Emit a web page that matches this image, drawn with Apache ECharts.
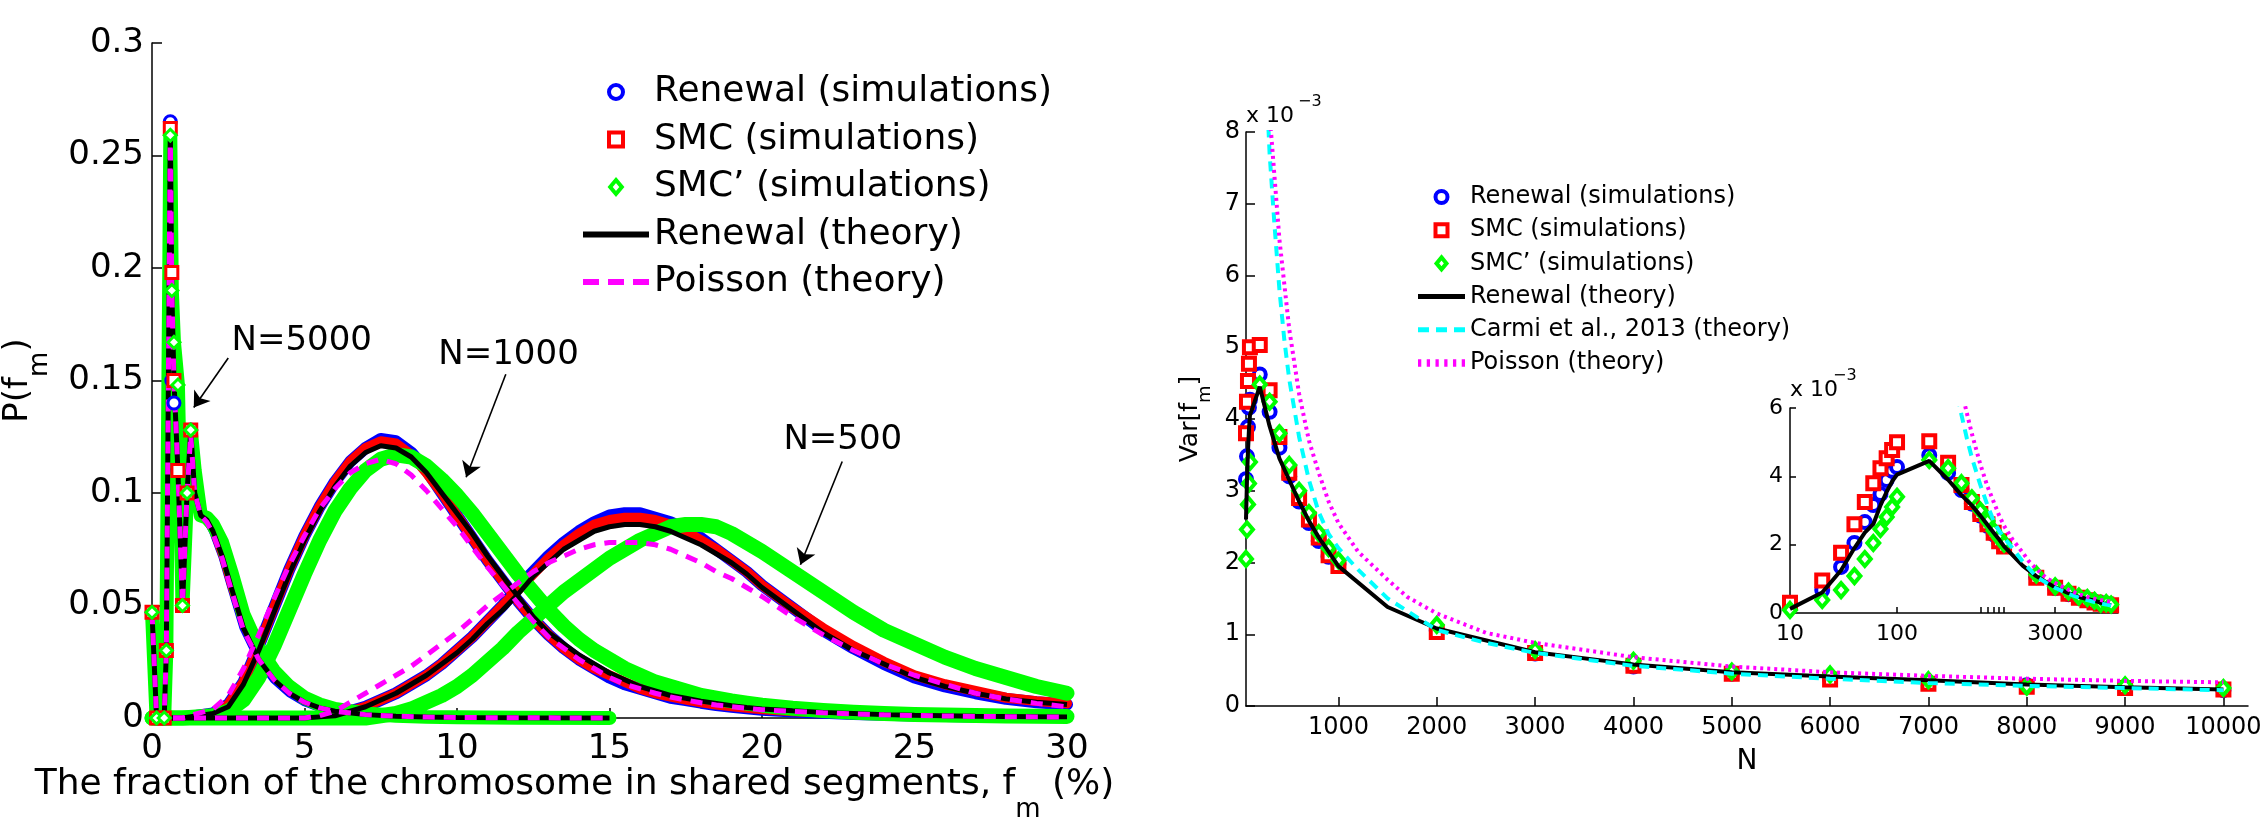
<!DOCTYPE html>
<html>
<head>
<meta charset="utf-8">
<script src="https://cdn.jsdelivr.net/npm/echarts@6/dist/echarts.min.js"></script>
<style>
  html, body { margin: 0; padding: 0; background: #fff; }
  #main { width: 2264px; height: 821px; }
</style>
</head>
<body>
<div id="main"></div>
<script>
// ---------- left panel: P(f_m) for N = 5000, 1000, 500 ----------
var fGrid = [0,1,2,2.5,3,3.5,4,4.5,5,5.5,6,6.5,7,7.5,8,8.5,9,9.5,10,10.5,11,11.5,12,12.5,13,13.5,14,14.5,15,15.5,16,16.5,17,17.5,18,18.5,19,19.5,20,21,22,23,24,25,26,27,28,29,30];
var f5000 = [0,0.15,0.4,0.47,0.6,0.65,0.72,0.85,1.0,1.15,1.27,1.4,1.6,1.8,2.0,2.3,2.6,3.0,3.5,4.0,4.5,5.0,5.5,6.0,7.0,8.0,9.0,10,12,15];

var ren5000  = [0.047,0,0,0.03,0.265,0.15,0.14,0.11,0.05,0.10,0.128,0.10,0.09,0.088,0.083,0.072,0.058,0.040,0.026,0.017,0.011,0.007,0.0045,0.003,0.0015,0.0008,0.0004,0.0002,0.0001,0];
var smc5000  = [0.047,0,0,0.03,0.262,0.198,0.15,0.11,0.05,0.10,0.128,0.10,0.09,0.088,0.083,0.072,0.058,0.041,0.027,0.018,0.012,0.0075,0.005,0.0033,0.0017,0.0009,0.0005,0.0002,0.0001,0];
var smcp5000 = [0.047,0,0,0.03,0.259,0.19,0.167,0.148,0.05,0.10,0.128,0.11,0.09,0.089,0.086,0.078,0.065,0.046,0.031,0.021,0.014,0.009,0.006,0.004,0.002,0.001,0.0005,0.0003,0.0001,0];
var theo5000 = [0.047,0,0,0.03,0.263,0.19,0.15,0.11,0.05,0.10,0.128,0.10,0.09,0.088,0.083,0.072,0.058,0.040,0.026,0.017,0.011,0.007,0.0045,0.003,0.0015,0.0008,0.0004,0.0002,0.0001,0];
var poi5000  = [0.047,0,0,0.03,0.26,0.19,0.15,0.11,0.05,0.10,0.126,0.10,0.09,0.087,0.082,0.071,0.057,0.039,0.026,0.017,0.011,0.007,0.0045,0.003,0.0015,0.0008,0.0004,0.0002,0.0001,0];

var ren1000  = [0,0,0.002,0.006,0.016,0.032,0.049,0.066,0.081,0.094,0.105,0.114,0.120,0.124,0.123,0.118,0.110,0.100,0.090,0.080,0.070,0.061,0.052,0.044,0.037,0.031,0.026,0.022,0.018,0.015,0.013,0.011,0.009,0.008,0.0068,0.0058,0.005,0.0043,0.0037,0.0029,0.0023,0.0018,0.0014,0.0011,0.0009,0.0007,0.0006,0.0005,0.0004];
var smc1000  = [0,0,0.002,0.006,0.016,0.032,0.049,0.066,0.081,0.094,0.105,0.114,0.120,0.123,0.122,0.117,0.109,0.100,0.090,0.080,0.070,0.061,0.052,0.044,0.037,0.031,0.026,0.022,0.019,0.016,0.013,0.011,0.0095,0.0082,0.007,0.006,0.0052,0.0045,0.0039,0.003,0.0024,0.0019,0.0015,0.0012,0.001,0.0008,0.0007,0.0006,0.0005];
var smcp1000 = [0,0,0.001,0.003,0.008,0.018,0.032,0.048,0.064,0.079,0.092,0.102,0.110,0.115,0.117,0.116,0.112,0.106,0.099,0.091,0.082,0.073,0.064,0.056,0.048,0.041,0.035,0.030,0.026,0.022,0.019,0.016,0.014,0.012,0.010,0.0088,0.0076,0.0066,0.0057,0.0043,0.0033,0.0026,0.002,0.0016,0.0013,0.0011,0.0009,0.0008,0.0007];
var theo1000 = [0,0,0.002,0.005,0.015,0.030,0.047,0.064,0.079,0.092,0.103,0.112,0.118,0.121,0.120,0.116,0.109,0.100,0.091,0.082,0.072,0.063,0.054,0.045,0.038,0.033,0.028,0.024,0.020,0.017,0.014,0.012,0.010,0.0088,0.0075,0.0065,0.0055,0.0047,0.004,0.0032,0.0025,0.002,0.0015,0.0012,0.001,0.0008,0.0007,0.0006,0.0005];
var poi1000  = [0,0,0.004,0.010,0.022,0.037,0.053,0.068,0.081,0.093,0.102,0.109,0.113,0.115,0.113,0.108,0.101,0.093,0.085,0.076,0.067,0.059,0.051,0.043,0.036,0.031,0.026,0.022,0.018,0.015,0.013,0.011,0.0093,0.008,0.0068,0.0058,0.005,0.0043,0.0037,0.0029,0.0023,0.0018,0.0014,0.0011,0.0009,0.0007,0.0006,0.0005,0.0004];

var ren500   = [0,0,0,0,0,0,0,0,0,0.0005,0.001,0.003,0.005,0.008,0.011,0.015,0.019,0.024,0.030,0.036,0.043,0.050,0.058,0.065,0.072,0.078,0.083,0.087,0.090,0.091,0.091,0.089,0.087,0.084,0.080,0.075,0.070,0.065,0.059,0.049,0.039,0.031,0.024,0.018,0.014,0.011,0.0085,0.007,0.006];
var smc500   = [0,0,0,0,0,0,0,0,0,0.0005,0.001,0.003,0.005,0.008,0.011,0.015,0.019,0.024,0.030,0.036,0.043,0.050,0.057,0.064,0.071,0.077,0.082,0.086,0.088,0.089,0.089,0.088,0.086,0.083,0.079,0.075,0.070,0.065,0.059,0.049,0.040,0.032,0.025,0.019,0.015,0.012,0.009,0.0075,0.0065];
var smcp500  = [0,0,0,0,0,0,0,0,0,0,0,0,0,0.001,0.002,0.004,0.007,0.010,0.014,0.019,0.025,0.031,0.038,0.044,0.050,0.056,0.061,0.066,0.071,0.075,0.079,0.082,0.085,0.086,0.086,0.085,0.082,0.078,0.074,0.065,0.056,0.047,0.039,0.033,0.027,0.022,0.018,0.014,0.011];
var theo500  = [0,0,0,0,0,0,0,0,0,0.0005,0.001,0.003,0.005,0.008,0.011,0.015,0.019,0.024,0.029,0.035,0.042,0.048,0.055,0.063,0.069,0.075,0.079,0.083,0.085,0.086,0.086,0.085,0.083,0.080,0.077,0.073,0.069,0.064,0.058,0.048,0.038,0.030,0.024,0.018,0.014,0.011,0.0085,0.007,0.006];
var poi500   = [0,0,0,0,0,0,0,0,0,0.001,0.003,0.007,0.011,0.015,0.019,0.023,0.028,0.033,0.038,0.044,0.050,0.055,0.060,0.065,0.069,0.072,0.075,0.077,0.078,0.078,0.078,0.077,0.075,0.072,0.069,0.065,0.062,0.058,0.054,0.045,0.037,0.030,0.024,0.019,0.015,0.011,0.0085,0.0065,0.005];

var annotText = ['N=5000', 'N=1000', 'N=500'];
var annotPos  = [[4.91, 0.1674], [11.69, 0.161], [22.65, 0.1233]];
var arrowFrom = [[2.50, 0.160], [11.6, 0.1528], [22.63, 0.114]];
var arrowTo   = [[1.37, 0.138], [10.3, 0.107], [21.26, 0.0681]];

// ---------- right panel: Var[f_m] (x 10^-3) vs N ----------
var nSim    = [10,20,30,40,50,60,70,80,90,100,200,300,400,500,600,700,800,900,1000,2000,3000,4000,5000,6000,7000,8000,9000,10000];
var varRen  = [0.2,0.67,1.35,2.05,2.66,3.16,3.48,3.89,4.16,4.27,4.62,4.1,3.6,3.2,2.85,2.55,2.3,2.08,1.98,1.05,0.73,0.55,0.45,0.38,0.33,0.29,0.26,0.22];
var varSmc  = [0.3,0.95,1.76,2.6,3.25,3.8,4.24,4.53,4.77,5.0,5.03,4.4,3.75,3.25,2.9,2.6,2.35,2.1,1.95,1.03,0.74,0.56,0.45,0.37,0.31,0.27,0.25,0.23];
var varSmcp = [0.09,0.38,0.67,1.08,1.58,2.05,2.46,2.81,3.1,3.4,4.48,4.24,3.8,3.36,3.0,2.69,2.41,2.2,2.03,1.13,0.78,0.63,0.48,0.44,0.36,0.27,0.29,0.25];
var nTheo   = [10,20,30,40,50,60,70,80,90,100,200,300,400,500,600,700,800,900,1000,1500,2000,3000,4000,5000,6000,7000,8000,9000,10000];
var varTheo = [0.12,0.6,1.25,1.9,2.35,2.6,3.15,3.55,3.85,4.05,4.45,3.9,3.45,3.15,2.85,2.58,2.35,2.15,1.95,1.38,1.08,0.75,0.58,0.47,0.41,0.36,0.3,0.26,0.23];
var nCarmi  = [280,300,350,400,450,500,600,700,800,900,1000,1200,1500,2000,2500,3000,4000,5000,6000,7000,8000,9000,10000];
var varCarmi= [8.3,7.7,6.7,5.8,5.1,4.55,3.75,3.15,2.7,2.4,2.2,1.9,1.5,1.06,0.88,0.74,0.56,0.45,0.38,0.32,0.28,0.25,0.22];
var nPois   = [300,400,500,600,700,800,900,1000,1200,1500,1700,2000,2500,3000,4000,5000,6000,7000,8000,9000,10000];
var varPois = [8.25,6.5,5.25,4.35,3.7,3.25,2.85,2.55,2.15,1.76,1.52,1.29,1.02,0.88,0.68,0.55,0.47,0.42,0.38,0.35,0.33];

var mainMinN   = 60;
var mainTicks  = [1000,2000,3000,4000,5000,6000,7000,8000,9000,10000];
var insetLabels = [10, 100, 3000];
var insetTicks  = [10, 100, 600, 700, 800, 900, 1000, 3000];

var FONT = 'DejaVu Sans';
var BLUE = '#0000ff', RED = '#ff0000', GREEN = '#00ff00', BLACK = '#000000', MAGENTA = '#ff00ff', CYAN = '#00ffff';

function pts(xs, ys, symMax, xMin) {
  var out = [];
  xs.forEach(function (x, i) {
    if (xMin !== undefined && x < xMin) return;
    var d = { value: [x, ys[i]] };
    if (symMax !== undefined && x > symMax) d.symbol = 'none';
    out.push(d);
  });
  return out;
}

var chart = echarts.init(document.getElementById('main'));
var series = [];

// left: simulation bands, then theory lines on top
var leftSets = [
  { f: f5000, ren: ren5000, smc: smc5000, smcp: smcp5000, theo: theo5000, poi: poi5000, band: [8, 7, 14], mark: 1.3 },
  { f: fGrid, ren: ren1000, smc: smc1000, smcp: smcp1000, theo: theo1000, poi: poi1000, band: [12, 10, 15] },
  { f: fGrid, ren: ren500,  smc: smc500,  smcp: smcp500,  theo: theo500,  poi: poi500,  band: [12, 10, 15] }
];
var simKinds = [
  { key: 'ren',  name: 'Renewal (simulations)', color: BLUE,  symbol: 'circle' },
  { key: 'smc',  name: 'SMC (simulations)',     color: RED,   symbol: 'rect' },
  { key: 'smcp', name: 'SMC\u2019 (simulations)', color: GREEN, symbol: 'diamond' }
];
simKinds.forEach(function (k, ki) {
  leftSets.forEach(function (s) {
    var withMarks = s.mark !== undefined;
    series.push({
      type: 'line', name: k.name, xAxisIndex: 0, yAxisIndex: 0, clip: false,
      data: pts(s.f, s[k.key], withMarks ? s.mark : undefined),
      symbol: withMarks ? k.symbol : 'none', symbolSize: 12, showSymbol: withMarks,
      itemStyle: { color: '#fff', borderColor: k.color, borderWidth: 3, opacity: 1 },
      lineStyle: { color: k.color, width: s.band[ki], join: 'round', cap: 'round' },
      silent: true
    });
  });
});
leftSets.forEach(function (s) {
  series.push({
    type: 'line', name: 'Renewal (theory)', xAxisIndex: 0, yAxisIndex: 0, clip: false,
    data: pts(s.f, s.theo), symbol: 'none',
    lineStyle: { color: BLACK, width: 5 }, itemStyle: { color: BLACK }, silent: true
  });
});
leftSets.forEach(function (s) {
  series.push({
    type: 'line', name: 'Poisson (theory)', xAxisIndex: 0, yAxisIndex: 0, clip: false,
    data: pts(s.f, s.poi), symbol: 'none',
    lineStyle: { color: MAGENTA, width: 5, type: [12, 9] }, itemStyle: { color: MAGENTA }, silent: true
  });
});

// annotations N=... with arrows
series.push({
  type: 'scatter', name: 'annot', xAxisIndex: 0, yAxisIndex: 0,
  data: annotPos, symbol: 'rect', symbolSize: 1, itemStyle: { color: '#fff', opacity: 1 }, silent: true,
  label: {
    show: true, position: 'top', distance: -17, fontFamily: FONT, fontSize: 34, color: '#000000',
    opacity: 1, textBorderWidth: 0,
    formatter: function (p) { return annotText[p.dataIndex]; }
  },
  markLine: {
    silent: true, symbol: ['none', 'arrow'], symbolSize: 15, animation: false,
    lineStyle: { color: '#000', width: 1.6, type: 'solid', opacity: 1 }, label: { show: false },
    data: arrowFrom.map(function (a, i) { return [{ coord: a }, { coord: arrowTo[i] }]; })
  }
});

// right: main (grid 1) and inset (grid 2) share the same data
[[1, 1, mainMinN], [2, 2, undefined]].forEach(function (ax) {
  simKinds.forEach(function (k) {
    var ys = k.key === 'ren' ? varRen : (k.key === 'smc' ? varSmc : varSmcp);
    series.push({
      type: 'scatter', name: k.name, xAxisIndex: ax[0], yAxisIndex: ax[1],
      data: pts(nSim, ys, undefined, ax[2]), symbol: k.symbol, symbolSize: k.symbol === 'diamond' ? [12, 14] : 12,
      itemStyle: { color: '#fff', borderColor: k.color, borderWidth: 4, opacity: 1 }, silent: true
    });
  });
  series.push({
    type: 'line', name: 'Renewal (theory)', xAxisIndex: ax[0], yAxisIndex: ax[1],
    data: pts(nTheo, varTheo, undefined, ax[2]), symbol: 'none',
    lineStyle: { color: BLACK, width: 4 }, itemStyle: { color: BLACK }, silent: true
  });
  series.push({
    type: 'line', name: 'Carmi et al., 2013 (theory)', xAxisIndex: ax[0], yAxisIndex: ax[1],
    data: pts(nCarmi, varCarmi), symbol: 'none',
    lineStyle: { color: CYAN, width: 4, type: [10, 7] }, itemStyle: { color: CYAN }, silent: true
  });
  series.push({
    type: 'line', name: 'Poisson (theory) ', xAxisIndex: ax[0], yAxisIndex: ax[1],
    data: pts(nPois, varPois), symbol: 'none',
    lineStyle: { color: MAGENTA, width: 4, type: [3, 4] }, itemStyle: { color: MAGENTA }, silent: true
  });
});

function axisBase(fontSize, margin, tickLen) {
  return {
    splitLine: { show: false },
    axisLine: { show: true, onZero: false, lineStyle: { color: '#000', width: 1.5 } },
    axisTick: { show: true, inside: true, length: tickLen, lineStyle: { color: '#000', width: 1.5 } },
    axisLabel: { fontFamily: FONT, fontSize: fontSize, color: '#000', margin: margin },
    nameMoveOverlap: false
  };
}
function merge(a, b) {
  for (var k in b) {
    if (a[k] && typeof a[k] === 'object' && !Array.isArray(a[k]) && typeof b[k] === 'object' && !Array.isArray(b[k])) merge(a[k], b[k]);
    else a[k] = b[k];
  }
  return a;
}
// subscript: main tokens sit at the top of the line, the small token at the bottom
function subRich(big, small, drop) {
  return {
    a: { fontFamily: FONT, fontSize: big, lineHeight: big, verticalAlign: 'top', color: '#000' },
    s: { fontFamily: FONT, fontSize: small, lineHeight: big + drop, verticalAlign: 'bottom', color: '#000' }
  };
}
function plainNum(v) { return String(v); }

var simLegendIcons = [
  { name: 'Renewal (simulations)', icon: 'circle', itemStyle: { color: '#fff', borderColor: BLUE, borderWidth: 4 } },
  { name: 'SMC (simulations)', icon: 'path://M0,0H10V10H0Z', itemStyle: { color: '#fff', borderColor: RED, borderWidth: 4 } },
  { name: 'SMC\u2019 (simulations)', icon: 'path://M5,0L10,6L5,12L0,6Z', itemStyle: { color: '#fff', borderColor: GREEN, borderWidth: 4 } }
];

var option = {
  animation: false,
  textStyle: { fontFamily: FONT },
  grid: [
    { left: 152, top: 43, width: 915, height: 675, containLabel: false, outerBoundsMode: 'none' },
    { left: 1246, top: 132, width: 1002, height: 574, containLabel: false, outerBoundsMode: 'none' },
    { left: 1790, top: 408, width: 328, height: 205, containLabel: false, outerBoundsMode: 'none' }
  ],
  xAxis: [
    merge(axisBase(34, 14, 10), {
      gridIndex: 0, type: 'value', min: 0, max: 30, interval: 5,
      name: '{a|The fraction of the chromosome in shared segments, f}{s|m}{a| (%)}',
      nameLocation: 'middle', nameGap: 49,
      nameTextStyle: { padding: [0, 70, 0, 0], rich: subRich(36, 26, 20) }
    }),
    merge(axisBase(24, 10, 9), {
      gridIndex: 1, type: 'value', min: mainMinN, max: 10250,
      axisLabel: { customValues: mainTicks, formatter: plainNum }, axisTick: { customValues: mainTicks },
      name: 'N', nameLocation: 'middle', nameGap: 42,
      nameTextStyle: { fontFamily: FONT, fontSize: 28, color: '#000' }
    }),
    merge(axisBase(22, 10, 6), {
      gridIndex: 2, type: 'log', logBase: 10, min: 10, max: 11600,
      axisLabel: { customValues: insetLabels, formatter: plainNum }, axisTick: { customValues: insetTicks }
    })
  ],
  yAxis: [
    merge(axisBase(34, 8, 10), {
      gridIndex: 0, type: 'value', min: 0, max: 0.3, interval: 0.05,
      name: '{a|P(f}{s|m}{a|)}', nameLocation: 'middle', nameGap: 99,
      nameTextStyle: { rich: subRich(34, 26, 18) }
    }),
    merge(axisBase(24, 6, 9), {
      gridIndex: 1, type: 'value', min: 0, max: 8, interval: 1,
      name: '{a|Var[f}{s|m}{a|]}', nameLocation: 'middle', nameGap: 32,
      nameTextStyle: { rich: subRich(25, 18, 11) }
    }),
    merge(axisBase(22, 7, 6), {
      gridIndex: 2, type: 'value', min: 0, max: 6, interval: 2
    })
  ],
  legend: [
    {
      orient: 'vertical', left: 578, top: 69, itemWidth: 66, itemHeight: 14, itemGap: 11.5,
      selectedMode: false, textStyle: { fontFamily: FONT, fontSize: 36, color: '#000' },
      data: simLegendIcons.concat([
        { name: 'Renewal (theory)', icon: 'path://M0,0H66V6H0Z', itemStyle: { color: BLACK, borderWidth: 0 } },
        { name: 'Poisson (theory)', icon: 'path://M0,0H16V6H0Z M25,0H41V6H25Z M50,0H66V6H50Z', itemStyle: { color: MAGENTA, borderWidth: 0 } }
      ])
    },
    {
      orient: 'vertical', left: 1413, top: 180, itemWidth: 47, itemHeight: 12, itemGap: 9.2,
      selectedMode: false, textStyle: { fontFamily: FONT, fontSize: 24, color: '#000' },
      data: simLegendIcons.concat([
        { name: 'Renewal (theory)', icon: 'path://M0,0H47V5H0Z', itemStyle: { color: BLACK, borderWidth: 0 } },
        { name: 'Carmi et al., 2013 (theory)', icon: 'path://M0,0H11V5H0Z M18,0H29V5H18Z M36,0H47V5H36Z', itemStyle: { color: CYAN, borderWidth: 0 } },
        { name: 'Poisson (theory) ', icon: 'path://M0,0H3V7H0Z M8,0H11V7H8Z M16,0H19V7H16Z M24,0H27V7H24Z M32,0H35V7H32Z M40,0H43V7H40Z', itemStyle: { color: MAGENTA, borderWidth: 0 } }
      ]),
      formatter: function (n) { return n.trim(); }
    }
  ],
  graphic: [
    { type: 'text', left: 1246, top: 105, style: { text: 'x 10', font: '22px "DejaVu Sans"', fill: '#000' } },
    { type: 'text', left: 1298, top: 94, style: { text: '\u22123', font: '16px "DejaVu Sans"', fill: '#000' } },
    { type: 'text', left: 1790, top: 379, style: { text: 'x 10', font: '22px "DejaVu Sans"', fill: '#000' } },
    { type: 'text', left: 1833, top: 368, style: { text: '\u22123', font: '16px "DejaVu Sans"', fill: '#000' } }
  ],
  series: series
};

chart.setOption(option);
</script>
</body>
</html>
